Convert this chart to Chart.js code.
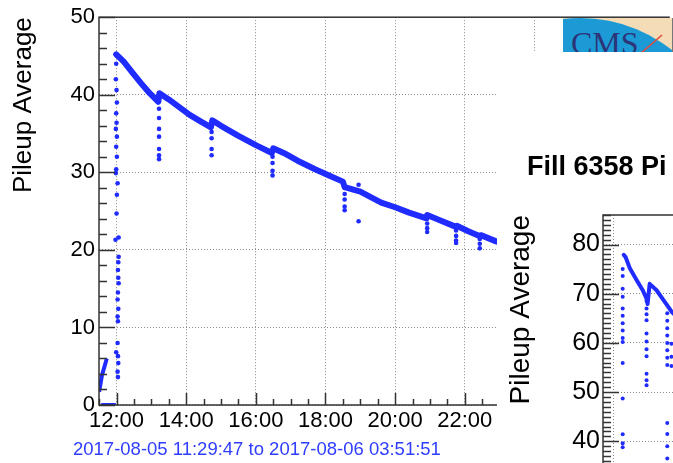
<!DOCTYPE html>
<html>
<head>
<meta charset="utf-8">
<script src="https://cdn.jsdelivr.net/npm/chart.js@4.4.1/dist/chart.umd.min.js"></script>
<style>
  html, body { margin: 0; padding: 0; background: #fff; overflow: hidden; }
  #page { position: relative; width: 673px; height: 463px; overflow: hidden; font-family: 'Liberation Sans', Arial, sans-serif; }
  #main { position: absolute; left: 0; top: 0; }
  #dateRange { position: absolute; left: 73px; top: 439px; font-size: 18.5px; line-height: 20px; color: #2f3dff; white-space: nowrap; }
  #fill2box { position: absolute; left: 497px; top: 51px; width: 176px; height: 412px; overflow: hidden; background: #fff; }
  #fill2 { position: absolute; left: 0; top: 0; }
  #fill2title { position: absolute; left: 527px; top: 151px; width: 141px; overflow: hidden; font-size: 27px; line-height: 30px; font-weight: bold; color: #000; white-space: nowrap; }
  #logo { position: absolute; left: 563px; top: 18px; width: 109px; height: 34px; overflow: hidden; border-right: 1px solid #777; }
</style>
</head>
<body>
<div id="page">
  <canvas id="main" width="673" height="463"></canvas>
  <div id="dateRange">2017-08-05 11:29:47 to 2017-08-06 03:51:51</div>
  <div id="fill2box"><canvas id="fill2" width="420" height="640"></canvas></div>
  <div id="fill2title">Fill 6358 Pileup Average</div>
  <div id="logo">
    <svg width="109" height="34" xmlns="http://www.w3.org/2000/svg">
      <rect x="0" y="0" width="109" height="34" fill="#f3dcb6"/>
      <circle cx="17" cy="148" r="148" fill="#1c9ad6"/>
      <text x="8" y="36" font-family="Liberation Serif, DejaVu Serif, serif" font-size="32" fill="#2b3578">CMS</text>
      <line x1="77" y1="36" x2="99" y2="17" stroke="#e2473a" stroke-width="1.5"/>
    </svg>
  </div>
</div>
<script>
const BLUE = '#1f2bff';

// fill 1: hours counted from 2017-08-05 00:00
const xTickHours = [12, 14, 16, 18, 20, 22, 24, 26];
const xTickLabels = ['12:00', '14:00', '16:00', '18:00', '20:00', '22:00', '00:00', '02:00'];
const yTickValues = [0, 10, 20, 30, 40, 50];

const mainHours = [11.99, 12.2, 12.45, 12.7, 12.95, 13.2, 13.23, 13.5, 13.8, 14.1, 14.4, 14.71, 14.75, 15.0, 15.5, 16.0, 16.46, 16.5,
  16.8, 17.2, 17.7, 18.1, 18.5, 18.55, 19.0, 19.3, 19.6, 20.0, 20.4, 20.88, 20.92, 21.3, 21.73, 21.77, 22.1, 22.42, 22.46, 22.9, 23.2];
const mainPileup = [45.2, 44.3, 42.9, 41.5, 40.2, 39.1, 40.2, 39.4, 38.4, 37.4, 36.6, 35.8, 36.7, 36.0, 34.7, 33.5, 32.5, 33.1,
  32.5, 31.5, 30.4, 29.6, 28.8, 28.1, 27.5, 26.8, 26.1, 25.5, 24.8, 24.1, 24.5, 23.8, 23.0, 23.1, 22.4, 21.8, 21.9, 21.1, 20.7];

// before stable beams: short rise and the zero stretch
const lowHours = [11.50, 11.58, 11.72, 11.72, 11.56, 11.98];
const lowPileup = [1.7, 3.8, 6.0, null, 0, 0];

// ramp column and the dips
const spikeHours = [
  12.04, 12.03, 12.05, 12.04, 11.99, 12.03, 12.04, 12.03, 12.05, 12.03, 12.04, 12.06, 12.05, 12.04, 12.05, 12.06, 11.97, 12.06,
  12.0, 12.01, 12.03, 11.98, 11.99, 12.01, 11.99, 12.01, 11.98, 12.0, 11.99, 12.01, 12.0, 11.98, 11.99, 12.01,
  13.22, 13.22, 13.22, 13.22, 13.22, 13.22, 13.22,
  14.73, 14.73, 14.73, 14.73,
  16.48, 16.48, 16.48, 16.48,
  18.55, 18.55, 18.55, 18.55, 18.55, 18.95, 18.95,
  20.92, 20.92, 20.92, 20.92,
  21.75, 21.75, 21.75, 21.75,
  22.43, 22.43, 22.43];
const spikePileup = [
  3.6, 4.3, 5.4, 6.3, 6.8, 8.0, 10.8, 11.4, 12.4, 13.6, 14.5, 15.7, 16.4, 17.4, 18.4, 19.1, 21.3, 21.6,
  24.7, 27.1, 28.6, 29.9, 30.4, 32.0, 33.3, 34.6, 35.6, 36.4, 37.6, 39.0, 40.6, 42.0, 44.0, 45.0,
  38.2, 37.0, 35.6, 34.6, 33.0, 32.2, 31.7,
  35.2, 34.4, 33.0, 32.2,
  32.0, 31.2, 30.2, 29.6,
  28.0, 27.2, 26.5, 25.6, 25.1, 28.4, 23.7,
  24.0, 23.4, 22.8, 22.3,
  22.5, 21.8, 21.2, 20.9,
  21.4, 20.8, 20.2];

// fill 6358 (second plot), hours from its first x tick
const fill2Hours = [0.31, 0.36, 0.49, 0.69, 0.86, 0.97, 1.00, 1.06, 1.26, 1.43, 1.63, 1.71, 1.80];
const fill2Pileup = [77.9, 77.5, 75.1, 72.7, 70.7, 69.0, 67.9, 72.0, 70.7, 69.0, 67.0, 66.2, 65.6];
const fill2SpikeHours = [
  0.28, 0.28, 0.28, 0.28, 0.28, 0.28, 0.28, 0.28, 0.28, 0.28, 0.28, 0.28, 0.28, 0.28, 0.28,
  0.97, 0.97, 0.97, 0.97, 0.97, 0.97, 0.97, 0.97, 0.97, 0.97, 0.97,
  1.57, 1.57, 1.57, 1.57, 1.57, 1.57, 1.57, 1.57, 1.57, 1.57, 1.57, 1.57,
  1.69, 1.69, 1.69];
const fill2SpikePileup = [
  75.0, 73.6, 71.0, 69.4, 67.0, 65.5, 64.0, 62.5, 61.0, 60.2, 55.9, 48.7, 41.4, 39.6, 38.8,
  68.5, 67.0, 65.8, 64.6, 61.9, 60.3, 58.7, 57.3, 53.7, 52.4, 51.4,
  66.0, 64.5, 63.0, 61.5, 60.0, 58.5, 57.0, 55.5, 43.7, 41.5, 39.0, 36.5,
  59.8, 57.2, 55.3];

const pts = (xs, ys) => xs.map((x, i) => ({ x: x, y: ys[i] }));

// ROOT style frame with ticks pointing into the plot
function insideTicks(o) {
  return {
    id: 'insideTicks',
    afterDraw(chart) {
      const { ctx, chartArea: a } = chart;
      const x = chart.scales.x, y = chart.scales.y;
      ctx.save();
      ctx.strokeStyle = '#333';
      ctx.lineWidth = 1.5;
      ctx.setLineDash([]);
      ctx.beginPath();
      for (let v = Math.ceil(y.min / o.yMinor) * o.yMinor; v <= y.max + 1e-9; v += o.yMinor) {
        const py = Math.round(y.getPixelForValue(v)) + 0.5;
        const major = Math.abs(v / o.yMajor - Math.round(v / o.yMajor)) < 1e-6;
        ctx.moveTo(a.left, py);
        ctx.lineTo(a.left + (major ? o.yLen : o.yLen / 2), py);
      }
      for (let v = Math.ceil(x.min / o.xMinor) * o.xMinor; v <= x.max + 1e-9; v += o.xMinor) {
        const px = Math.round(x.getPixelForValue(v)) + 0.5;
        const major = Math.abs(v / o.xMajor - Math.round(v / o.xMajor)) < 1e-6;
        ctx.moveTo(px, a.bottom);
        ctx.lineTo(px, a.bottom - (major ? o.xLen : o.xLen / 2));
      }
      ctx.stroke();
      ctx.strokeRect(a.left, a.top, a.right - a.left, a.bottom - a.top);
      ctx.restore();
    }
  };
}

Chart.defaults.font.family = "'Liberation Sans', Arial, sans-serif";

new Chart(document.getElementById('main'), {
  type: 'scatter',
  data: {
    datasets: [
      { data: pts(mainHours, mainPileup), showLine: true, borderColor: BLUE, borderWidth: 6, pointRadius: 0, borderCapStyle: 'round', borderJoinStyle: 'round' },
      { data: pts(lowHours, lowPileup), showLine: true, borderColor: BLUE, borderWidth: 4, pointRadius: 0 },
      { data: pts(spikeHours, spikePileup), backgroundColor: BLUE, borderWidth: 0, pointRadius: 2.3 }
    ]
  },
  options: {
    responsive: false,
    animation: false,
    devicePixelRatio: 1,
    layout: { padding: { top: 17, right: 0, bottom: 0, left: 0 } },
    plugins: { legend: { display: false }, tooltip: { enabled: false } },
    scales: {
      x: {
        type: 'linear', min: 11.496, max: 27.864,
        afterBuildTicks: s => { s.ticks = xTickHours.map(v => ({ value: v })); },
        afterFit: s => { s.height = 58; },
        ticks: { callback: (v, i) => xTickLabels[i], font: { size: 22 }, color: '#000', padding: 3, maxRotation: 0, autoSkip: false },
        grid: { color: '#8a8a8a', lineWidth: 1, drawTicks: false },
        border: { display: false, dash: [1, 2] }
      },
      y: {
        min: 0, max: 50,
        afterBuildTicks: s => { s.ticks = yTickValues.map(v => ({ value: v })); },
        afterFit: s => { s.width = 99; },
        ticks: { font: { size: 22 }, color: '#000', padding: 4 },
        title: { display: true, text: 'Pileup Average', align: 'end', font: { size: 26 }, color: '#000', padding: { top: 8, bottom: 0 } },
        grid: { color: '#8a8a8a', lineWidth: 1, drawTicks: false },
        border: { display: false, dash: [1, 2] }
      }
    }
  },
  plugins: [insideTicks({ yMajor: 10, yMinor: 2, yLen: 16, xMajor: 2, xMinor: 0.5, xLen: 12 })]
});

new Chart(document.getElementById('fill2'), {
  type: 'scatter',
  data: {
    datasets: [
      { data: pts(fill2Hours, fill2Pileup), showLine: true, borderColor: BLUE, borderWidth: 4, pointRadius: 0, borderCapStyle: 'round', borderJoinStyle: 'round' },
      { data: pts(fill2SpikeHours, fill2SpikePileup), backgroundColor: BLUE, borderWidth: 0, pointRadius: 2 }
    ]
  },
  options: {
    responsive: false,
    animation: false,
    devicePixelRatio: 1,
    layout: { padding: { top: 164, right: 0, bottom: 0, left: 0 } },
    plugins: { legend: { display: false }, tooltip: { enabled: false } },
    scales: {
      x: {
        type: 'linear', min: -0.29, max: 8.68,
        afterBuildTicks: s => { s.ticks = [0, 2, 4, 6, 8].map(v => ({ value: v })); },
        afterFit: s => { s.height = 53; },
        ticks: { display: false },
        grid: { color: '#8a8a8a', lineWidth: 1, drawTicks: false },
        border: { display: false, dash: [1, 2] }
      },
      y: {
        min: 0, max: 86,
        afterBuildTicks: s => { s.ticks = [0, 10, 20, 30, 40, 50, 60, 70, 80].map(v => ({ value: v })); },
        afterFit: s => { s.width = 106; },
        ticks: { font: { size: 25 }, color: '#000', padding: 3 },
        title: { display: true, text: 'Pileup Average', align: 'end', font: { size: 28 }, color: '#000', padding: { top: 7, bottom: 0 } },
        grid: { color: '#8a8a8a', lineWidth: 1, drawTicks: false },
        border: { display: false, dash: [1, 2] }
      }
    }
  },
  plugins: [insideTicks({ yMajor: 10, yMinor: 1, yLen: 16, xMajor: 2, xMinor: 0.5, xLen: 12 })]
});
</script>
</body>
</html>
